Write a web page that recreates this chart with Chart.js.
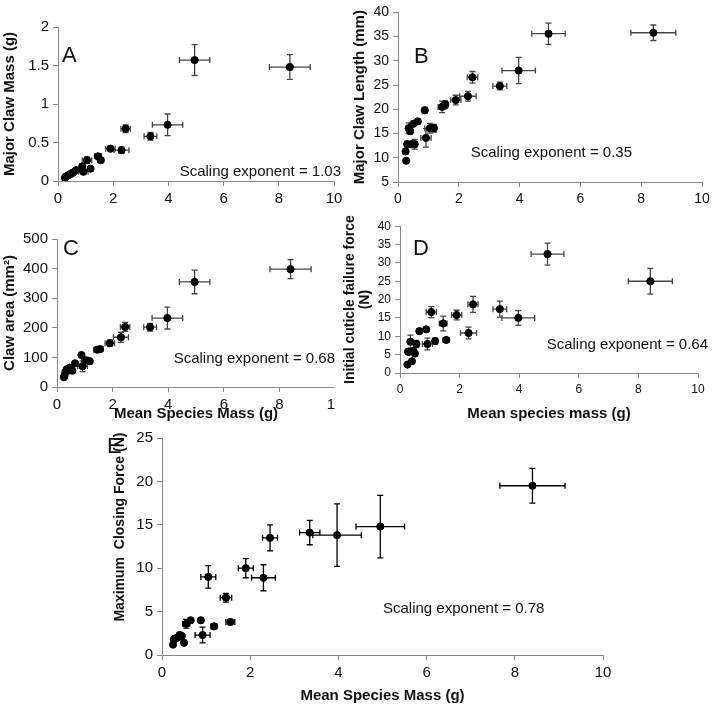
<!DOCTYPE html>
<html>
<head>
<meta charset="utf-8">
<script src="https://cdn.jsdelivr.net/npm/chart.js@4"></script>
<style>
  body { margin: 0; background: #fff; }
  .panel { position: absolute; overflow: hidden; }
</style>
</head>
<body>
<div class="panel" style="left:0;top:0;width:350px;height:215px"><canvas id="chartA" width="350" height="215"></canvas></div>
<div class="panel" style="left:350px;top:0;width:369px;height:215px"><canvas id="chartB" width="369" height="215"></canvas></div>
<!-- panel C is cut at its right edge, as in the original figure -->
<div class="panel" style="left:0;top:215px;width:335px;height:210px"><canvas id="chartC" width="360" height="210"></canvas></div>
<div class="panel" style="left:327px;top:215px;width:392px;height:210px"><canvas id="chartD" width="392" height="210"></canvas></div>
<div class="panel" style="left:100px;top:425px;width:619px;height:282px"><canvas id="chartE" width="619" height="282"></canvas></div>
<script>
// species mean mass (g) and its error, shared by all panels
const mass    = [0.25, 0.27, 0.3, 0.35, 0.4, 0.45, 0.5, 0.55, 0.65, 0.88, 0.92, 1.05, 1.18, 1.45, 1.55, 1.9, 2.3, 2.45, 3.35, 3.97, 4.95, 8.4];
const massErr = [0.02, 0.02, 0.02, 0.03, 0.03, 0.04, 0.05, 0.08, 0.05, 0.05, 0.17, 0.17, 0.07, 0.13, 0.1, 0.17, 0.27, 0.17, 0.23, 0.55, 0.55, 0.74];

// A: major claw mass (g)
const clawMass    = [0.04, 0.05, 0.06, 0.07, 0.08, 0.09, 0.10, 0.11, 0.14, 0.19, 0.12, 0.27, 0.16, 0.32, 0.27, 0.42, 0.40, 0.68, 0.58, 0.73, 1.57, 1.48];
const clawMassErr = [0.01, 0.01, 0.01, 0.01, 0.01, 0.01, 0.01, 0.01, 0.01, 0.02, 0.02, 0.04, 0.02, 0.03, 0.02, 0.03, 0.04, 0.05, 0.05, 0.14, 0.20, 0.16];

// B: major claw length (mm)
const clawLength    = [11.3, 9.4, 12.8, 16.1, 15.5, 12.8, 17.0, 12.8, 17.5, 19.8, 14.1, 16.1, 16.1, 20.5, 21.0, 21.9, 22.7, 26.6, 24.8, 28.0, 35.6, 35.8];
const clawLengthErr = [0.5, 0.4, 0.6, 1.1, 0.6, 0.6, 0.4, 1.0, 0.4, 0.6, 1.9, 1.0, 0.8, 1.2, 0.8, 1.0, 1.0, 1.2, 0.8, 2.7, 2.2, 1.6];

// C: claw area (mm2)
const clawArea    = [33, 38, 50, 60, 55, 65, 60, 55, 80, 108, 70, 90, 87, 126, 128, 148, 168, 203, 202, 233, 355, 398];
const clawAreaErr = [5, 5, 5, 5, 5, 8, 8, 8, 5, 5, 18, 10, 8, 8, 6, 10, 17, 15, 13, 37, 40, 32];

// D: initial cuticle failure force (N)
const failForce    = [2.3, 5.8, 5.8, 8.5, 3.2, 6.0, 5.3, 7.9, 11.4, 11.9, 7.9, 16.6, 8.7, 13.5, 9.0, 15.8, 10.9, 18.7, 17.4, 15.0, 32.4, 25.0];
const failForceErr = [0.3, 0.5, 0.5, 1.8, 0.4, 0.8, 0.5, 1.0, 0.6, 0.5, 1.6, 1.5, 0.8, 2.0, 0.6, 1.3, 1.6, 2.2, 2.2, 2.0, 3.0, 3.5];

// E: maximum closing force (N)
const closeForce    = [1.2, 1.8, 1.9, 2.0, 2.3, 2.2, 1.4, 3.6, 4.0, 4.0, 2.3, 9.0, 3.3, 6.6, 3.8, 10.0, 8.9, 13.5, 14.1, 13.8, 14.8, 19.5];
const closeForceErr = [0.2, 0.2, 0.3, 0.3, 0.3, 0.2, 0.2, 0.5, 0.2, 0.2, 0.9, 1.3, 0.3, 0.5, 0.3, 1.1, 1.5, 1.5, 1.4, 3.6, 3.6, 2.0];

const FONT = '"Liberation Sans", Arial, sans-serif';

// draws x/y error bars through the chart scales
const errorBars = {
    id: 'errorBars',
    beforeDatasetsDraw(chart, args, opts) {
        const xs = chart.scales.x, ys = chart.scales.y;
        const ctx = chart.ctx;
        const cap = 3;
        ctx.save();
        ctx.strokeStyle = opts.color;
        ctx.lineWidth = 1.3;
        opts.x.forEach((xv, i) => {
            const px = xs.getPixelForValue(xv);
            const py = ys.getPixelForValue(opts.y[i]);
            const x1 = xs.getPixelForValue(xv - opts.xErr[i]);
            const x2 = xs.getPixelForValue(xv + opts.xErr[i]);
            const y1 = ys.getPixelForValue(opts.y[i] - opts.yErr[i]);
            const y2 = ys.getPixelForValue(opts.y[i] + opts.yErr[i]);
            ctx.beginPath();
            ctx.moveTo(x1, py); ctx.lineTo(x2, py);
            ctx.moveTo(x1, py - cap); ctx.lineTo(x1, py + cap);
            ctx.moveTo(x2, py - cap); ctx.lineTo(x2, py + cap);
            ctx.moveTo(px, y1); ctx.lineTo(px, y2);
            ctx.moveTo(px - cap, y1); ctx.lineTo(px + cap, y1);
            ctx.moveTo(px - cap, y2); ctx.lineTo(px + cap, y2);
            ctx.stroke();
        });
        ctx.restore();
    }
};

// panel letter and scaling exponent text
const labels = {
    id: 'labels',
    afterDraw(chart, args, opts) {
        const ctx = chart.ctx;
        ctx.save();
        ctx.fillStyle = '#111';
        ctx.textBaseline = 'middle';
        ctx.font = '22px ' + FONT;
        ctx.textAlign = 'left';
        ctx.fillText(opts.letter, opts.letterPos[0], opts.letterPos[1]);
        ctx.font = '15px ' + FONT;
        ctx.textAlign = opts.textAlign || 'right';
        ctx.fillText(opts.text, opts.textPos[0], opts.textPos[1]);
        ctx.restore();
    }
};

function renderPanel(canvasId, cfg) {
    const ctx = document.getElementById(canvasId).getContext('2d');
    return new Chart(ctx, {
        type: 'scatter',
        data: {
            datasets: [{
                data: mass.map((x, i) => ({ x: x, y: cfg.values[i] })),
                backgroundColor: '#000',
                borderColor: '#000',
                pointRadius: 3.6,
                pointHoverRadius: 3.6
            }]
        },
        options: {
            responsive: false,
            animation: false,
            layout: { padding: cfg.padding },
            plugins: {
                legend: { display: false },
                tooltip: { enabled: false },
                errorBars: { x: mass, xErr: massErr, y: cfg.values, yErr: cfg.errors, color: cfg.barColor },
                labels: cfg.labels
            },
            scales: {
                x: {
                    min: 0, max: 10,
                    ticks: { stepSize: 2, color: '#111', font: { family: FONT, size: cfg.tickSize }, maxRotation: 0, padding: 4 },
                    grid: { drawOnChartArea: false, color: '#888', tickLength: 5 },
                    border: { color: '#888' },
                    title: { display: !!cfg.xTitle, text: cfg.xTitle, color: '#111', font: { family: FONT, size: 15, weight: 'bold' }, padding: { top: 2, bottom: 2 } },
                    afterFit: s => { s.height = cfg.xHeight; }
                },
                y: {
                    min: cfg.yMin, max: cfg.yMax,
                    ticks: { stepSize: cfg.yStep, color: '#111', font: { family: FONT, size: cfg.tickSize }, padding: 4, callback: v => String(v) },
                    grid: { drawOnChartArea: false, color: '#888', tickLength: 5 },
                    border: { color: '#888' },
                    title: { display: true, text: cfg.yTitle, color: '#111', font: { family: FONT, size: cfg.yTitleSize || 15, weight: 'bold', lineHeight: 1.1 }, padding: { top: 2, bottom: 2 } },
                    afterFit: s => { s.width = cfg.yWidth; }
                }
            }
        },
        plugins: [errorBars, labels]
    });
}

renderPanel('chartA', {
    values: clawMass, errors: clawMassErr, barColor: '#444',
    yMin: 0, yMax: 2, yStep: 0.5, yTitle: 'Major Claw Mass (g)', xTitle: '',
    tickSize: 15, yWidth: 58, xHeight: 34,
    padding: { top: 27, right: 16, left: 0, bottom: 0 },
    labels: { letter: 'A', letterPos: [62, 56], text: 'Scaling exponent = 1.03', textPos: [341, 172] }
});

renderPanel('chartB', {
    values: clawLength, errors: clawLengthErr, barColor: '#444',
    yMin: 5, yMax: 40, yStep: 5, yTitle: 'Major Claw Length (mm)', xTitle: '',
    tickSize: 14, yWidth: 48, xHeight: 33,
    padding: { top: 9, right: 17, left: 0, bottom: 0 },
    labels: { letter: 'B', letterPos: [64, 57], text: 'Scaling exponent = 0.35', textPos: [282, 153] }
});

renderPanel('chartC', {
    values: clawArea, errors: clawAreaErr, barColor: '#444',
    yMin: 0, yMax: 500, yStep: 100, yTitle: 'Claw area (mm²)', xTitle: 'Mean Species Mass (g)',
    tickSize: 15, yWidth: 57, xHeight: 38,
    padding: { top: 24, right: 25, left: 0, bottom: 0 },
    labels: { letter: 'C', letterPos: [63, 34], text: 'Scaling exponent = 0.68', textPos: [335, 144] }
});

renderPanel('chartD', {
    values: failForce, errors: failForceErr, barColor: '#444',
    yMin: 0, yMax: 40, yStep: 5, yTitle: ['Initial cuticle failure force', '(N)'], yTitleSize: 14, xTitle: 'Mean species mass (g)',
    tickSize: 12, yWidth: 60, xHeight: 52,
    padding: { top: 11, right: 21, left: 13, bottom: 0 },
    labels: { letter: 'D', letterPos: [86, 34], text: 'Scaling exponent = 0.64', textPos: [381, 130] }
});

renderPanel('chartE', {
    values: closeForce, errors: closeForceErr, barColor: '#000',
    yMin: 0, yMax: 25, yStep: 5, yTitle: '          Maximum  Closing Force (N)', yTitleSize: 14, xTitle: 'Mean Species Mass (g)',
    tickSize: 15, yWidth: 52, xHeight: 52,
    padding: { top: 12, right: 116, left: 10, bottom: 0 },
    labels: { letter: 'E', letterPos: [7, 22], text: 'Scaling exponent = 0.78', textPos: [283, 184], textAlign: 'left' }
});
</script>
</body>
</html>
